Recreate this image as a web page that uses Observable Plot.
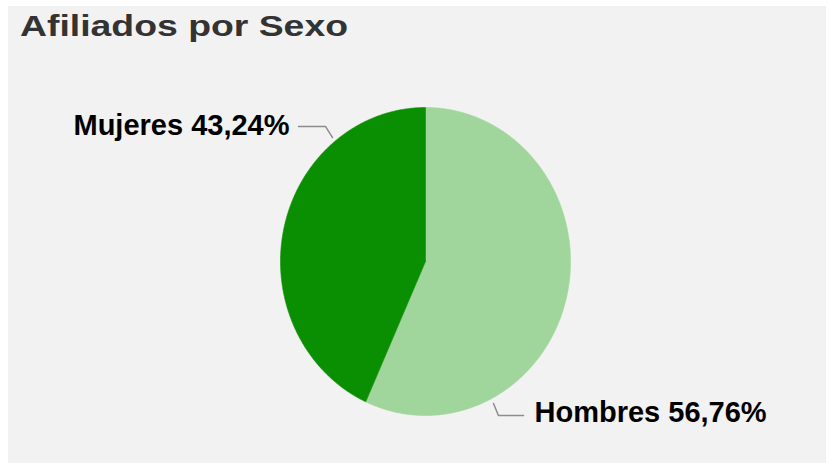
<!DOCTYPE html>
<html>
<head>
<meta charset="utf-8">
<script src="https://cdn.jsdelivr.net/npm/d3@7"></script>
<script src="https://cdn.jsdelivr.net/npm/@observablehq/plot@0.6"></script>
<style>
  html, body { margin: 0; padding: 0; background: #ffffff; }
  #wrap { position: relative; width: 828px; height: 463px; overflow: hidden; }
  #panel { position: absolute; left: 8px; top: 6px; width: 818px; height: 457px; background: #f2f2f2; }
  #title { position: absolute; left: 20px; top: 11px; margin: 0; font: bold 30px "Liberation Sans", Arial, sans-serif; line-height: 30px; color: #333333; white-space: nowrap; transform-origin: 0 0; }
  #chart { position: absolute; left: 0; top: 0; }
</style>
</head>
<body>
<div id="wrap">
  <div id="panel"></div>
  <div id="chart"></div>
  <span id="title">Afiliados por Sexo</span>
</div>
<script>
// ---- data ----
const categories = ["Hombres", "Mujeres"];
const values = [56.76, 43.24];
const colors = ["#a0d59b", "#0b8f02"];
const labels = ["Hombres 56,76%", "Mujeres 43,24%"];

// label anchors (in the pie's unit coordinates) and leader-line vertices
const labelX = [0.752, -0.938];
const labelY = [-0.984, 0.880];
const labelAnchor = ["start", "end"];
const leaderHombres = [[0.469, -0.922], [0.503, -1.0], [0.676, -1.0]];
const leaderMujeres = [[-0.641, 0.805], [-0.690, 0.877], [-0.876, 0.877]];

// ---- build slice polygons from the values ----
const arcs = d3.pie().sort(null).startAngle(0).endAngle(2 * Math.PI)(values);
const slicePts = [];
arcs.forEach((a, i) => {
  const cat = categories[i];
  slicePts.push({cat, x: 0, y: 0});
  const n = Math.max(2, Math.ceil((a.endAngle - a.startAngle) / (Math.PI / 360)));
  for (let k = 0; k <= n; k++) {
    const t = a.startAngle + (a.endAngle - a.startAngle) * k / n;
    slicePts.push({cat, x: Math.sin(t), y: Math.cos(t)});
  }
  slicePts.push({cat, x: 0, y: 0});
});

const labelData = categories.map((c, i) => ({cat: c, text: labels[i], x: labelX[i], y: labelY[i], anchor: labelAnchor[i]}));
const leaderData = [
  ...leaderHombres.map(([x, y]) => ({cat: "Hombres", x, y})),
  ...leaderMujeres.map(([x, y]) => ({cat: "Mujeres", x, y}))
];

const font = '"Liberation Sans", Arial, sans-serif';

const chart = Plot.plot({
  width: 828,
  height: 463,
  marginLeft: 280,
  marginRight: 258,
  marginTop: 107,
  marginBottom: 48,
  x: {domain: [-1, 1], axis: null},
  y: {domain: [-1, 1], axis: null},
  color: {domain: categories, range: colors},
  style: {background: "transparent", fontFamily: font, overflow: "visible"},
  marks: [
    Plot.line(slicePts, {x: "x", y: "y", z: "cat", fill: "cat", stroke: "cat", strokeWidth: 0.6, curve: "linear"}),
    Plot.line(leaderData, {x: "x", y: "y", z: "cat", stroke: "#8c8c8c", strokeWidth: 1.5, curve: "linear"}),
    Plot.text(labelData.filter(d => d.anchor === "start"), {x: "x", y: "y", text: "text", textAnchor: "start", lineAnchor: "middle", fontSize: 29, fontWeight: "bold", fill: "#000000"}),
    Plot.text(labelData.filter(d => d.anchor === "end"), {x: "x", y: "y", text: "text", textAnchor: "end", lineAnchor: "middle", fontSize: 29, fontWeight: "bold", fill: "#000000"})
  ]
});
document.getElementById("chart").appendChild(chart);

// stretch the title horizontally to the reference's width
const title = document.getElementById("title");
const w = title.getBoundingClientRect().width;
if (w > 0) title.style.transform = `scaleX(${328 / w})`;
</script>
</body>
</html>
